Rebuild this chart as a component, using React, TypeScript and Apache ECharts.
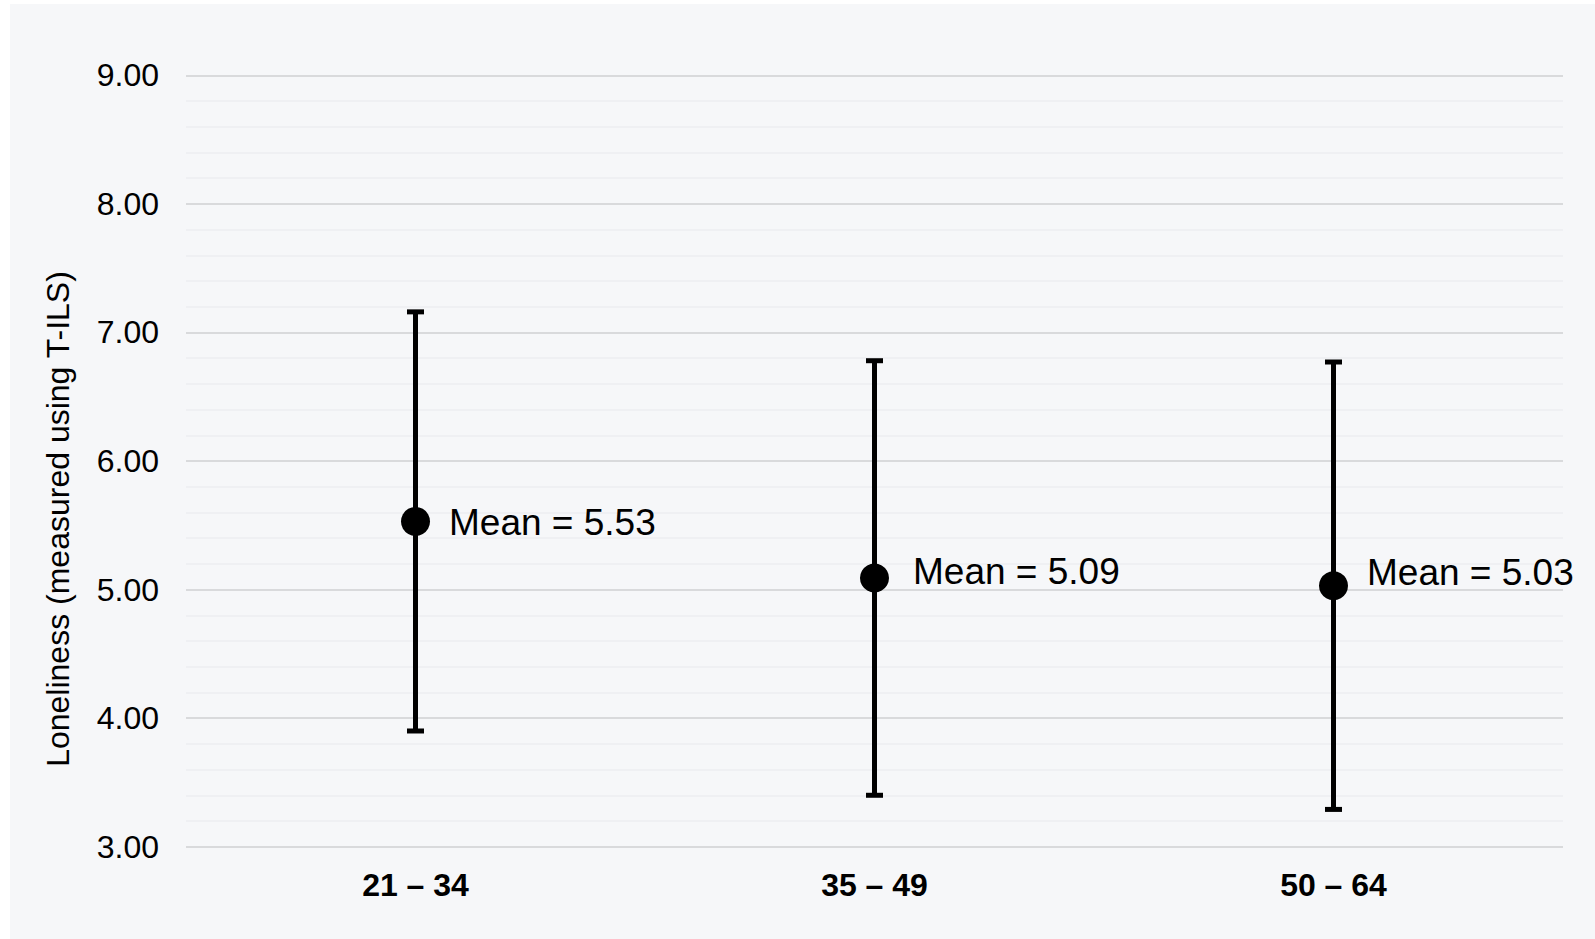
import { useEffect, useRef } from "react";
import * as echarts from "echarts";

// Age bands and loneliness scores (mean with upper/lower bounds of the bar)
const ageGroups = ["21 – 34", "35 – 49", "50 – 64"];
const meanScores = [5.53, 5.09, 5.03];
const upperBounds = [7.16, 6.78, 6.77];
const lowerBounds = [3.9, 3.4, 3.29];

const yMin = 3;
const yMax = 9;
const yStep = 1;

const axisTitle = "Loneliness (measured using T-ILS)";

const FONT = '"Liberation Sans", Arial, Helvetica, sans-serif';

// Per-point nudges for the "Mean = x" labels: [dx, dy]
const labelNudges = [
  [1, 1],
  [6, -6.5],
  [1, -13],
];

export default function App() {
  const ref = useRef<HTMLDivElement>(null);

  useEffect(() => {
    if (!ref.current) return;
    const chart = echarts.init(ref.current, undefined, { renderer: "svg" });

    const errorData = ageGroups.map((_, i) => [i, upperBounds[i], lowerBounds[i]]);
    const meanData = ageGroups.map((_, i) => ({
      value: [i, meanScores[i]],
      label: { offset: labelNudges[i] },
    }));

    chart.setOption({
      animation: false,
      backgroundColor: "#f6f7f9",
      textStyle: { fontFamily: FONT },
      grid: { left: 176, right: 32, top: 71.3, bottom: 92.3 },
      xAxis: {
        type: "category",
        data: ageGroups,
        axisLine: { show: false },
        axisTick: { show: false },
        splitLine: { show: false },
        axisLabel: {
          color: "#000",
          fontSize: 32,
          fontWeight: "bold",
          fontFamily: FONT,
          margin: 22,
        },
      },
      yAxis: {
        type: "value",
        min: yMin,
        max: yMax,
        interval: yStep,
        axisLine: { show: false },
        axisTick: { show: false },
        axisLabel: {
          color: "#000",
          fontSize: 32,
          fontFamily: FONT,
          margin: 27,
          formatter: (v: number) => v.toFixed(2),
        },
        splitLine: { show: true, lineStyle: { color: "#d9dadc", width: 2 } },
        minorTick: { show: false, splitNumber: 5 },
        minorSplitLine: { show: true, lineStyle: { color: "#eceef0", width: 1.5 } },
      },
      graphic: [
        {
          type: "text",
          x: 48,
          y: 515,
          rotation: Math.PI / 2,
          style: {
            text: axisTitle,
            font: `32px ${FONT}`,
            fill: "#000",
            textAlign: "center",
            textVerticalAlign: "middle",
          },
        },
      ],
      series: [
        {
          type: "custom",
          z: 2,
          data: errorData,
          renderItem: (_params: any, api: any) => {
            const x = api.value(0);
            const top = api.coord([x, api.value(1)]);
            const bottom = api.coord([x, api.value(2)]);
            const half = 8.5;
            const style = { stroke: "#000", lineWidth: 5, fill: "none" };
            return {
              type: "group",
              children: [
                {
                  type: "line",
                  shape: { x1: top[0], y1: top[1], x2: bottom[0], y2: bottom[1] },
                  style,
                },
                {
                  type: "line",
                  shape: { x1: top[0] - half, y1: top[1], x2: top[0] + half, y2: top[1] },
                  style,
                },
                {
                  type: "line",
                  shape: {
                    x1: bottom[0] - half,
                    y1: bottom[1],
                    x2: bottom[0] + half,
                    y2: bottom[1],
                  },
                  style,
                },
              ],
            };
          },
        },
        {
          type: "scatter",
          z: 3,
          symbol: "circle",
          symbolSize: 29,
          itemStyle: { color: "#000", opacity: 1 },
          data: meanData,
          label: {
            show: true,
            position: "right",
            distance: 18,
            color: "#000",
            opacity: 1,
            fontSize: 37,
            fontFamily: FONT,
            formatter: (p: any) => `Mean = ${p.value[1].toFixed(2)}`,
          },
        },
      ],
    });

    return () => chart.dispose();
  }, []);

  return (
    <div
      style={{
        position: "absolute",
        left: 0,
        top: 0,
        width: 1595,
        height: 939,
        background: "#ffffff",
      }}
    >
      <div
        ref={ref}
        style={{ position: "absolute", left: 10, top: 4, width: 1585, height: 935 }}
      />
    </div>
  );
}
